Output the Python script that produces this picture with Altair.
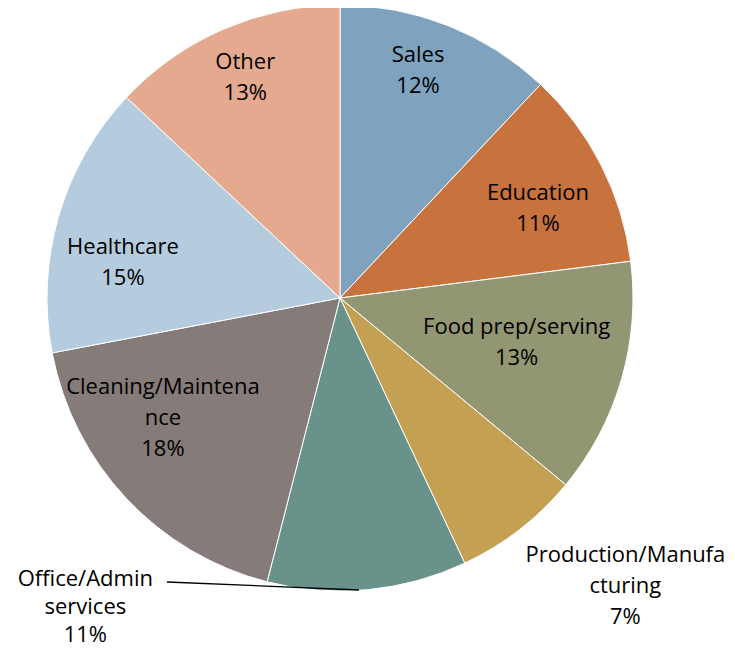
import altair as alt
import pandas as pd

categories = ["Sales", "Education", "Food prep/serving", "Production/Manufacturing",
              "Office/Admin services", "Cleaning/Maintenance", "Healthcare", "Other"]
label_lines = ["Sales", "Education", "Food prep/serving", "Production/Manufa\ncturing",
               "Office/Admin\nservices", "Cleaning/Maintena\nnce", "Healthcare", "Other"]
shares = [12, 11, 13, 7, 11, 18, 15, 13]
colors = ["#7FA2BE", "#C8723E", "#929672", "#C3A052", "#69938A", "#857B78", "#B5CBDE", "#E4A98E"]

# label placement (style): radius in px, angular offset from slice middle in radians, line height
label_radius = [255, 224, 179, 384, 379, 198, 223, 254]
label_offset = [-0.066, -0.016, -0.120, -0.178, 0.831, 0.290, -0.051, 0.026]
label_lh = [31, 31, 31, 31, 28, 31, 31, 31]

df = pd.DataFrame({
    "category": categories,
    "share": shares,
    "order": list(range(len(categories))),
    "label": [f"{l}\n{s}%" for l, s in zip(label_lines, shares)],
})

CX, CY, R = 332, 290, 293

base = alt.Chart(df).encode(
    theta=alt.Theta("share:Q", stack=True),
    order=alt.Order("order:Q"),
    x=alt.value(CX),
    y=alt.value(CY),
)

pie = base.mark_arc(outerRadius=R, stroke="white", strokeWidth=1).encode(
    color=alt.Color("category:N", scale=alt.Scale(domain=categories, range=colors), legend=None)
)

txt = dict(font="Open Sans", fontSize=22, lineBreak="\n", color="black",
           align="center", baseline="middle")

layers = [pie]
for cat, rad, off, lh in zip(categories, label_radius, label_offset, label_lh):
    layers.append(
        base.mark_text(radius=rad, thetaOffset=off, lineHeight=lh, **txt)
        .encode(text="t:N")
        .transform_calculate(t=f"datum.category == '{cat}' ? datum.label : ''")
    )

leader = alt.Chart(pd.DataFrame({"a": [0]})).mark_rule(color="black", strokeWidth=1.3).encode(
    x=alt.value(159), y=alt.value(574), x2=alt.value(351), y2=alt.value(582)
)
layers.append(leader)

chart = alt.layer(*layers).properties(
    width=719, height=640, autosize=alt.AutoSizeParams(type="none"), padding=0
).configure_view(stroke=None)

chart.save("out.html", embed_options={"renderer": "svg", "actions": False})
